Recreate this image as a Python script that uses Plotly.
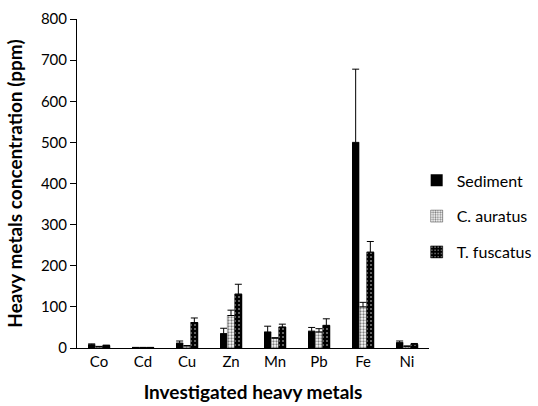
import plotly.graph_objects as go

metals = ["Co", "Cd", "Cu", "Zn", "Mn", "Pb", "Fe", "Ni"]
sediment = [8, 1, 12, 35, 39, 41, 500, 13]
sediment_err = [2, 0.5, 5, 13, 14, 9, 178, 4]
auratus = [3, 1, 5, 79, 24, 39, 100, 4]
auratus_err = [1, 0.5, 1, 13, 1, 8, 11, 1]
fuscatus = [6, 1, 62, 131, 51, 55, 233, 9]
fuscatus_err = [1, 0.5, 11, 24, 7, 16, 26, 2]

FONT = "Lato, 'Open Sans', sans-serif"

def err(vals):
    return dict(type="data", array=vals, arrayminus=[0] * len(vals), symmetric=False,
                color="black", thickness=1, width=3.5)

fig = go.Figure()
fig.add_trace(go.Bar(
    x=metals, y=sediment, name="Sediment", legendgroup="a",
    marker=dict(color="black", line=dict(color="black", width=0)),
    error_y=err(sediment_err)))
fig.add_trace(go.Bar(
    x=metals, y=auratus, name="C. auratus", legendgroup="b",
    marker=dict(color="white", line=dict(color="#555", width=0.5),
                pattern=dict(shape=".", fgcolor="black", bgcolor="white", size=3, solidity=0.45)),
    error_y=err(auratus_err)))
fig.add_trace(go.Bar(
    x=metals, y=fuscatus, name="T. fuscatus", legendgroup="c",
    marker=dict(color="black", line=dict(color="black", width=0.5),
                pattern=dict(shape=".", fgcolor="white", bgcolor="black", size=4, solidity=0.2)),
    error_y=err(fuscatus_err)))

fig.update_layout(
    width=538, height=406,
    margin=dict(l=77, r=109, t=19, b=58, autoexpand=False),
    paper_bgcolor="white", plot_bgcolor="white",
    barmode="group", bargap=0.5, bargroupgap=0,
    font=dict(family=FONT, size=15, color="black"),
    legend=dict(x=0.965, y=0.40, xanchor="left", yanchor="middle",
                traceorder="grouped", tracegroupgap=12,
                font=dict(size=16), itemwidth=30, bgcolor="rgba(0,0,0,0)"),
    xaxis=dict(showline=True, linecolor="black", linewidth=1, ticks="",
               automargin=False, tickfont=dict(size=15),
               title=dict(text="<b>Investigated heavy metals</b>", font=dict(size=19), standoff=16)),
    yaxis=dict(range=[0, 800], dtick=100, showgrid=False, zeroline=False,
               showline=True, linecolor="black", linewidth=1,
               ticks="outside", ticklen=6, tickcolor="black",
               automargin=False, tickfont=dict(size=15),
               title=dict(text="<b>Heavy metals concentration (ppm)</b>", font=dict(size=19), standoff=13)),
)

fig.write_html("out.html")
